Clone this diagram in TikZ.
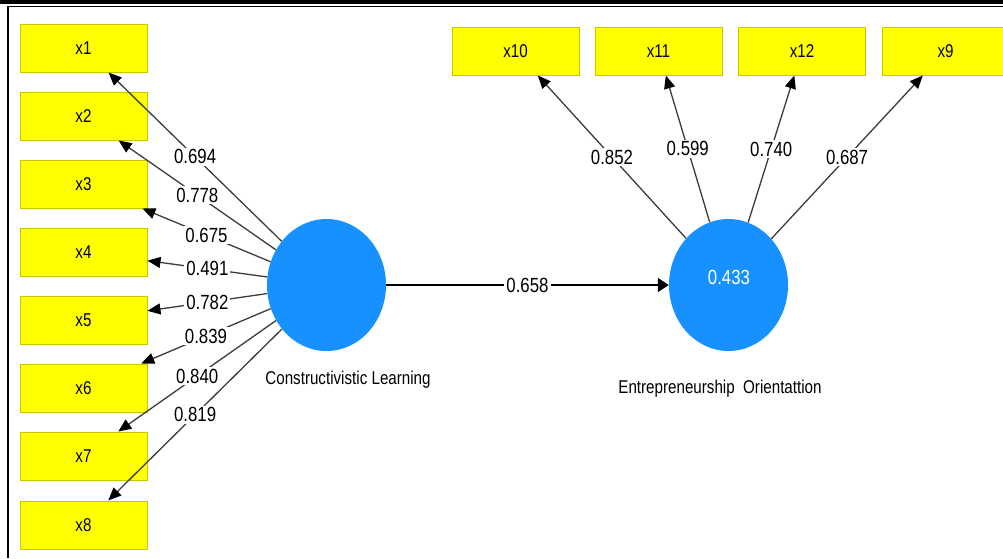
\documentclass[tikz,border=0pt]{standalone}
\usepackage{fontspec}
\setmainfont{Liberation Sans}
\newfontfamily\nf{Liberation Sans}[FakeStretch=0.82]
\usetikzlibrary{arrows.meta,shapes.geometric}
\definecolor{boxyellow}{RGB}{255,255,0}
\definecolor{boxedge}{RGB}{200,200,0}
\definecolor{lvblue}{RGB}{22,145,255}
\definecolor{lineg}{RGB}{60,60,60}
\begin{document}
\begin{tikzpicture}[x=1pt,y=-1pt,
  ind/.style={draw=boxedge, fill=boxyellow, line width=1pt, minimum width=127pt, minimum height=48pt, inner sep=0pt, font=\nf\fontsize{18.5}{18.5}\selectfont},
  lv/.style={ellipse, fill=lvblue, minimum width=119pt, minimum height=132pt, inner sep=0pt},
  load/.style={draw=lineg, line width=1.3pt, -{Triangle[length=13pt,width=11pt,color=black]}},
  lab/.style={fill=white, inner sep=2pt, font=\nf\fontsize{20.5}{20.5}\selectfont, text=black},
  lvname/.style={font=\nf\fontsize{18.5}{18.5}\selectfont, text=black}
]
\path[use as bounding box, clip] (0,0) rectangle (1003,558);
\fill[white] (0,0) rectangle (1003,558);
% frame
\fill[black] (0,0) rectangle (1003,4);
\draw[black, line width=1.5pt] (7,6.7) -- (1003,6.7);
\draw[black, line width=2pt] (7.7,6) -- (7.7,558);
% latent variables
\node[lv] (CL) at (326.5,285) {};
\node[lv] (EO) at (728.5,285) {};
\node[font=\nf\fontsize{20.5}{20.5}\selectfont, text=white] (R2) at (729,277) {0.433};
\node[lvname] (CLn) at (348,380) {Constructivistic Learning};
\node[lvname] (EOn) at (720,389) {Entrepreneurship\ \ Orientattion};
% indicators left
\node[ind] (x1) at (83.5,48) {x1};
\node[ind] (x2) at (83.5,116) {x2};
\node[ind] (x3) at (83.5,184) {x3};
\node[ind] (x4) at (83.5,252) {x4};
\node[ind] (x5) at (83.5,320) {x5};
\node[ind] (x6) at (83.5,388) {x6};
\node[ind] (x7) at (83.5,456) {x7};
\node[ind] (x8) at (83.5,525) {x8};
% indicators top
\node[ind] (x10) at (515.5,51) {x10};
\node[ind] (x11) at (658.5,51) {x11};
\node[ind] (x12) at (802,51) {x12};
\node[ind] (x9) at (945.5,51) {x9};
% loadings
\draw[load] (CL) -- node[lab] {0.694} (x1);
\draw[load] (CL) -- node[lab] {0.778} (x2);
\draw[load] (CL) -- node[lab] {0.675} (x3);
\draw[load] (CL) -- node[lab] {0.491} (x4);
\draw[load] (CL) -- node[lab] {0.782} (x5);
\draw[load] (CL) -- node[lab] {0.839} (x6);
\draw[load] (CL) -- node[lab] {0.840} (x7);
\draw[load] (CL) -- node[lab] {0.819} (x8);
\draw[load] (EO) -- node[lab] {0.852} (x10);
\draw[load] (EO) -- node[lab] {0.599} (x11);
\draw[load] (EO) -- node[lab] {0.740} (x12);
\draw[load] (EO) -- node[lab] {0.687} (x9);
% path
\draw[black, line width=2pt, -{Triangle[length=11pt,width=14pt]}] (CL) -- node[lab] {0.658} (EO);
\end{tikzpicture}
\end{document}
